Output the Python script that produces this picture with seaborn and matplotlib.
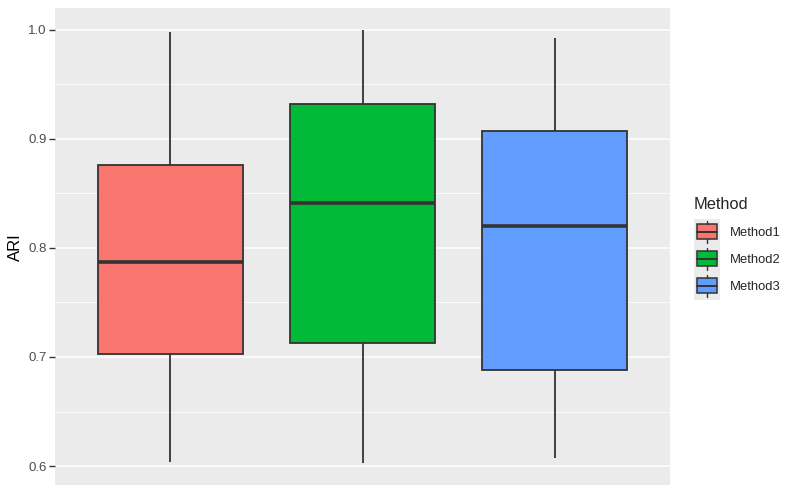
import matplotlib
matplotlib.use("Agg")
import matplotlib.pyplot as plt
from matplotlib.legend_handler import HandlerBase
from matplotlib.patches import Rectangle
from matplotlib.lines import Line2D
import seaborn as sns
import pandas as pd

methods = ["Method1", "Method2", "Method3"]
method1_ari = [0.604, 0.703, 0.787, 0.876, 0.998]
method2_ari = [0.603, 0.713, 0.841, 0.932, 1.000]
method3_ari = [0.607, 0.688, 0.820, 0.907, 0.993]
colors = ["#F8766D", "#00BA38", "#619CFF"]
y_ticks = [0.6, 0.7, 0.8, 0.9, 1.0]
y_tick_labels = ["0.6", "0.7", "0.8", "0.9", "1.0"]

df = pd.DataFrame({
    "Method": [methods[0]] * len(method1_ari) + [methods[1]] * len(method2_ari) + [methods[2]] * len(method3_ari),
    "ARI": method1_ari + method2_ari + method3_ari,
})

sns.set_style("white")
plt.rcParams["font.family"] = ["Liberation Sans", "DejaVu Sans"]

fig = plt.figure(figsize=(8, 4.94), dpi=100)
ax = fig.add_axes([55 / 800, 9 / 494, 615 / 800, 476.5 / 494])
ax.set_facecolor("#EBEBEB")

line_col = "#333333"
sns.boxplot(
    data=df, x="Method", y="ARI", hue="Method", order=methods, hue_order=methods,
    palette=colors, width=0.755, saturation=1, ax=ax, legend=False, whis=1.5,
    linecolor=line_col, linewidth=1.3, showcaps=False, dodge=False,
    medianprops=dict(color=line_col, linewidth=2.6),
    whiskerprops=dict(color=line_col, linewidth=1.3),
    boxprops=dict(edgecolor=line_col, linewidth=1.3),
)

ax.set_xlim(-0.6, 2.6)
ax.set_ylim(0.5826, 1.0196)
ax.set_yticks(y_ticks)
ax.set_yticklabels(y_tick_labels)
ax.set_yticks([0.65, 0.75, 0.85, 0.95], minor=True)
ax.grid(True, which="major", axis="y", color="white", linewidth=1.1)
ax.grid(True, which="minor", axis="y", color="white", linewidth=0.55)
ax.set_axisbelow(True)
for s in ax.spines.values():
    s.set_visible(False)
ax.set_xticks([])
ax.set_xlabel("")
ax.set_ylabel("ARI", fontsize=12, color="black", labelpad=4)
ax.tick_params(axis="y", which="major", length=4, width=1, color=line_col,
               labelsize=9.5, labelcolor="#4D4D4D", pad=2, left=True)
ax.tick_params(axis="y", which="minor", length=0)


class BoxHandler(HandlerBase):
    def create_artists(self, legend, orig_handle, xdescent, ydescent, width, height, fontsize, trans):
        fc = orig_handle.get_facecolor()
        x0 = -xdescent
        y0 = -ydescent
        bg = Rectangle((x0, y0), width, height,
                       facecolor="#EBEBEB", edgecolor="none", transform=trans)
        cx = x0 + width / 2
        bx0 = x0 + 2.2
        bw = width - 4.4
        by0 = y0 + height * 0.24
        bh = height * 0.55
        box = Rectangle((bx0, by0), bw, bh,
                        facecolor=fc, edgecolor=line_col, linewidth=1.1, transform=trans)
        med = Line2D([bx0, bx0 + bw], [by0 + bh / 2] * 2,
                     color=line_col, linewidth=1.4, transform=trans)
        w1 = Line2D([cx, cx], [by0 + bh, y0 + height - 1.5],
                    color=line_col, linewidth=1.0, transform=trans)
        w2 = Line2D([cx, cx], [y0 + 1.5, by0],
                    color=line_col, linewidth=1.0, transform=trans)
        return [bg, box, med, w1, w2]


fs = 9.4
key_pt = 27 * 0.72
hh = (key_pt / fs - 0.245) / 0.65
handles = [Rectangle((0, 0), 1, 1, facecolor=c) for c in colors]
leg = fig.legend(handles, methods, title="Method", loc="upper left",
                 bbox_to_anchor=(694 / 800, 1 - 197 / 494), frameon=False,
                 handler_map={Rectangle: BoxHandler()}, fontsize=fs,
                 title_fontsize=11.8, handlelength=(26 * 0.72) / fs,
                 handleheight=hh,
                 labelspacing=0, handletextpad=0.76, borderaxespad=0, borderpad=0)
leg._legend_box.align = "left"
leg._legend_box.sep = 6.5 * 0.72

fig.savefig("out.png", dpi=100, facecolor="white")
